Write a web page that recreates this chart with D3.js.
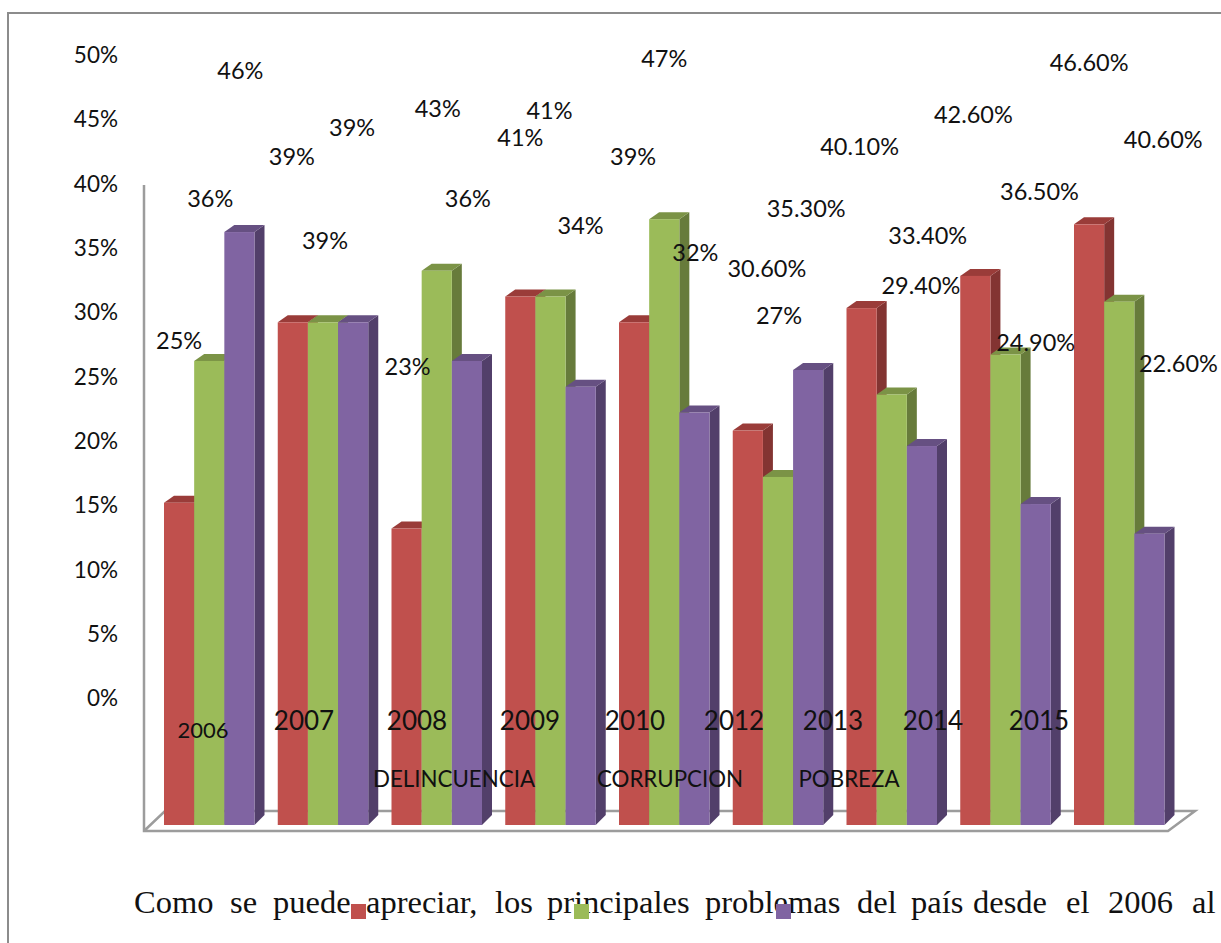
<!DOCTYPE html>
<html><head><meta charset="utf-8">
<script src="https://cdn.jsdelivr.net/npm/d3@7"></script>
<style>html,body{margin:0;padding:0;background:#fff}svg{display:block}</style>
</head><body><svg id="c" width="1221" height="943"></svg>
<script>
const years = ["2006","2007","2008","2009","2010","2012","2013","2014","2015"];
const seriesNames = ["DELINCUENCIA","CORRUPCION","POBREZA"];
const delincuencia = [25,39,23,41,39,30.6,40.1,42.6,46.6];
const corrupcion = [36,39,43,41,47,27,33.4,36.5,40.6];
const pobreza = [46,39,36,34,32,35.3,29.4,24.9,22.6];
const delincuenciaLabels = ["25%","39%","23%","41%","39%","30.60%","40.10%","42.60%","46.60%"];
const corrupcionLabels = ["36%","39%","43%","41%","47%","27%","33.40%","36.50%","40.60%"];
const pobrezaLabels = ["46%","39%","36%","34%","32%","35.30%","29.40%","24.90%","22.60%"];
const axisTicks = [0,5,10,15,20,25,30,35,40,45,50];
const paragraphWords = ["Como","se","puede","apreciar,","los","principales","problemas","del","país","desde","el","2006","al"];

// layout
const series = [delincuencia, corrupcion, pobreza];
const seriesLabels = [delincuenciaLabels, corrupcionLabels, pobrezaLabels];
const front = ["#C0504D","#9BBB59","#8064A2"];
const side = ["#833432","#677B3B","#523F6A"];
const topc = ["#9A3C39","#7B9346","#665082"];
const labelDx = [[0,-1,1,0,-1,19,-2,-2,0],[1,2,1,-1,0,1,36,34,44],[1,-1,1,0,1,-2,-1,0,29]];
const labelDy = [[-162,-165,-162,-159,-165,-162,-161,-161,-161],[-162,-81,-162,-186,-160,-161,-158,-163,-162],[-161,-194,-162,-161,-160,-161,-160,-161,-170]];
const yearX = [203,304,417,530,635,734,833,933,1039];
const yearY = [731,721,721,721,721,721,721,721,721];
const yearSize = [22,26,26,26,26,26,26,26,26];
const legendX = [454,670,849];
const swatchX = [351,574,776];
const wordX = [134,230,273,366,495,547,705,857,911,973,1066,1108,1192];
const depthX = 10, depthY = 7;

const svg = d3.select("#c");
const sans = "Lato, 'Open Sans', sans-serif";

const x0 = d3.scaleBand().domain(years).range([164, 164+113.75*9]);
const xBar = d3.scaleLinear().domain([0,3]).range([0,90.5]);
const yBar = d3.scaleLinear().domain([0,50]).range([825,825-12.89*50]);
const yAxis = d3.scaleLinear().domain([0,50]).range([698,55]);

// page frame
svg.append("path").attr("d",d3.line()([[1221,13],[8,13],[8,943]])).attr("fill","none").attr("stroke","#8c8c8c").attr("stroke-width",2);

// 3D floor and wall
svg.append("path").attr("fill","none").attr("stroke","#9c9c9c").attr("stroke-width",2.5)
  .attr("d",d3.line()([[144,185],[144,831],[1168,831],[1195,811],[165,811],[144,831]]));

// bars
const bars = svg.append("g");
years.forEach((yr,i)=>{
  series.forEach((vals,s)=>{
    const a = x0(yr)+xBar(s), b = x0(yr)+xBar(s+1), t = yBar(vals[i]), z = yBar(0);
    const g = bars.append("g");
    g.append("path").attr("fill",side[s]).attr("d",d3.line()([[b,t],[b+depthX,t-depthY],[b+depthX,z-depthY-3],[b,z]]));
    g.append("path").attr("fill",topc[s]).attr("d",d3.line()([[a,t],[a+depthX,t-depthY],[b+depthX,t-depthY],[b,t]]));
    g.append("rect").attr("x",a).attr("y",t).attr("width",b-a).attr("height",z-t).attr("fill",front[s]);
  });
});

// value axis
const ax = svg.append("g").attr("transform","translate(118,0)").call(d3.axisLeft(yAxis).tickValues(axisTicks).tickSize(0).tickPadding(0).tickFormat(d=>d+"%"));
ax.select(".domain").remove();
ax.selectAll("text").attr("font-family",sans).attr("font-size",22.5).attr("fill","#111").attr("dy","0.34em");

// value labels
const lab = svg.append("g").attr("font-family",sans).attr("font-size",23.5).attr("fill","#111").attr("text-anchor","middle");
years.forEach((yr,i)=>{
  series.forEach((vals,s)=>{
    lab.append("text")
      .attr("x",x0(yr)+xBar(s+0.5)+labelDx[s][i])
      .attr("y",yBar(vals[i])+labelDy[s][i])
      .attr("dy","0.34em")
      .text(seriesLabels[s][i]);
  });
});

// year labels
years.forEach((yr,i)=>{
  svg.append("text").attr("x",yearX[i]).attr("y",yearY[i]).attr("dy","0.34em").attr("text-anchor","middle")
    .attr("font-family",sans).attr("font-size",yearSize[i]).attr("fill","#111").text(yr);
});

// legend
seriesNames.forEach((n,s)=>{
  svg.append("text").attr("x",legendX[s]).attr("y",779).attr("dy","0.34em").attr("text-anchor","middle")
    .attr("font-family",sans).attr("font-size",22.3).attr("fill","#111").text(n);
});

// paragraph
paragraphWords.forEach((w,i)=>{
  svg.append("text").attr("x",wordX[i]).attr("y",913).attr("font-family","'Liberation Serif', serif").attr("font-size",32.5).attr("fill","#111").text(w);
});

seriesNames.forEach((n,s)=>{
  svg.append("rect").attr("x",swatchX[s]).attr("y",904).attr("width",15).attr("height",15).attr("fill",front[s]);
});
</script></body></html>
